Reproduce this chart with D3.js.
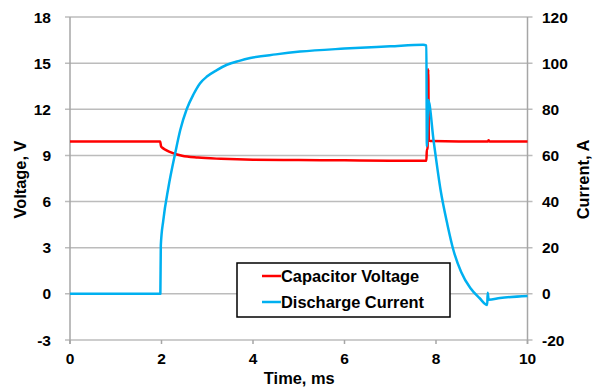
<!DOCTYPE html>
<html>
<head>
<meta charset="utf-8">
<script src="https://cdn.jsdelivr.net/npm/d3@7"></script>
<style>
  html, body { margin: 0; padding: 0; background: #fff; }
  svg text { font-family: "Liberation Sans", Arial, sans-serif; font-weight: bold; fill: #000; }
</style>
</head>
<body>
<svg id="chart" width="593" height="387"></svg>
<script>
// ---- data ----
const xTicks = [0, 2, 4, 6, 8, 10];
const voltTicks = [-3, 0, 3, 6, 9, 12, 15, 18];
const currTicks = [-20, 0, 20, 40, 60, 80, 100, 120];

const voltTime = [0, 1.0, 1.97, 1.99, 2.02, 2.1, 2.25, 2.45, 2.8, 3.3, 4.0, 5.0, 6.0, 7.0, 7.79, 7.80, 7.815, 7.83, 7.845, 7.86, 7.9, 8.5, 9.13, 9.15, 9.17, 10];
const voltValue = [9.9, 9.9, 9.9, 9.6, 9.5, 9.35, 9.15, 8.98, 8.86, 8.78, 8.72, 8.7, 8.68, 8.66, 8.65, 9.4, 9.4, 14.6, 10.0, 9.95, 9.93, 9.9, 9.9, 9.98, 9.9, 9.9];

const currTime = [0, 1.0, 1.975, 1.985, 2.04, 2.15, 2.30, 2.41, 2.55, 2.70, 2.84, 3.0, 3.21, 3.43, 3.7, 3.94, 4.5, 5.03, 6.0, 7.0, 7.72, 7.79, 7.80, 7.83, 7.95, 8.10, 8.25, 8.38, 8.55, 8.75, 8.95, 9.12, 9.13, 9.15, 9.4, 10];
const currValue = [0, 0, 0, 21, 32, 46, 61, 71, 80, 86.5, 91.2, 94.3, 97, 99.3, 101, 102.2, 103.8, 105, 106.3, 107.3, 108, 107.6, 64, 84, 66, 45, 30, 19, 9.5, 2.5, -1.8, -4.8, 0.5, -2.5, -1.8, -0.9];

const seriesNames = ["Capacitor Voltage", "Discharge Current"];
const seriesColors = ["#ff0000", "#00b0f0"];

// ---- layout ----
const svg = d3.select("#chart");
const pL = 70, pR = 527.5, pT = 17, pB = 340;

const x = d3.scaleLinear().domain([0, 10]).range([pL, pR]);
const yV = d3.scaleLinear().domain([-3, 18]).range([pB, pT]);
const yC = d3.scaleLinear().domain([-20, 120]).range([pB, pT]);

const gridColor = "#bcbcbc";
const axisColor = "#a6a6a6";

// gridlines (horizontal, extended as tick marks on both sides)
svg.append("g").selectAll("line").data(voltTicks).join("line")
  .attr("x1", pL - 5).attr("x2", pR + 5)
  .attr("y1", d => yV(d)).attr("y2", d => yV(d))
  .attr("stroke", gridColor).attr("stroke-width", 1.5);

// vertical axis lines
svg.append("line").attr("x1", pL).attr("x2", pL).attr("y1", pT).attr("y2", pB + 4)
  .attr("stroke", axisColor).attr("stroke-width", 1.5);
svg.append("line").attr("x1", pR).attr("x2", pR).attr("y1", pT).attr("y2", pB + 4)
  .attr("stroke", axisColor).attr("stroke-width", 1.5);

// x ticks
svg.append("g").selectAll("line").data(xTicks).join("line")
  .attr("x1", d => x(d)).attr("x2", d => x(d))
  .attr("y1", pB).attr("y2", pB + 4)
  .attr("stroke", axisColor).attr("stroke-width", 1.5);

// tick labels
svg.append("g").selectAll("text").data(xTicks).join("text")
  .attr("x", d => x(d)).attr("y", 364)
  .attr("text-anchor", "middle").attr("font-size", "15.5px")
  .text(d => d);

svg.append("g").selectAll("text").data(voltTicks).join("text")
  .attr("x", 51).attr("y", d => yV(d)).attr("dy", "0.36em")
  .attr("text-anchor", "end").attr("font-size", "15.5px")
  .text(d => d);

svg.append("g").selectAll("text").data(currTicks).join("text")
  .attr("x", 542).attr("y", d => yC(d)).attr("dy", "0.36em")
  .attr("text-anchor", "start").attr("font-size", "15.5px")
  .text(d => d);

// axis titles
svg.append("text").attr("x", (pL + pR) / 2 + 0.5).attr("y", 384)
  .attr("text-anchor", "middle").attr("font-size", "16.4px").text("Time, ms");
svg.append("text").attr("transform", `translate(26,${(pT + pB) / 2 + 1}) rotate(-90)`)
  .attr("text-anchor", "middle").attr("font-size", "16.4px").text("Voltage, V");
svg.append("text").attr("transform", `translate(589,${(pT + pB) / 2 + 1}) rotate(-90)`)
  .attr("text-anchor", "middle").attr("font-size", "16.4px").text("Current, A");

// series
const lineV = d3.line().curve(d3.curveMonotoneX).x((d, i) => x(voltTime[i])).y(d => yV(d));
const lineC = d3.line().curve(d3.curveMonotoneX).x((d, i) => x(currTime[i])).y(d => yC(d));

svg.append("path").datum(voltValue).attr("d", lineV)
  .attr("fill", "none").attr("stroke", seriesColors[0]).attr("stroke-width", 2.5)
  .attr("stroke-linejoin", "round");
svg.append("path").datum(currValue).attr("d", lineC)
  .attr("fill", "none").attr("stroke", seriesColors[1]).attr("stroke-width", 2.5)
  .attr("stroke-linejoin", "round");

// legend
const lg = svg.append("g");
lg.append("rect").attr("x", 237).attr("y", 263).attr("width", 213).attr("height", 54)
  .attr("fill", "#fff").attr("stroke", "#000").attr("stroke-width", 1.5);
seriesNames.forEach((name, i) => {
  const cy = 276 + i * 26;
  lg.append("line").attr("x1", 262).attr("x2", 281).attr("y1", cy).attr("y2", cy)
    .attr("stroke", seriesColors[i]).attr("stroke-width", 2.5);
  lg.append("text").attr("x", 281).attr("y", cy).attr("dy", "0.36em")
    .attr("font-size", "16.4px").text(name);
});
</script>
</body>
</html>
